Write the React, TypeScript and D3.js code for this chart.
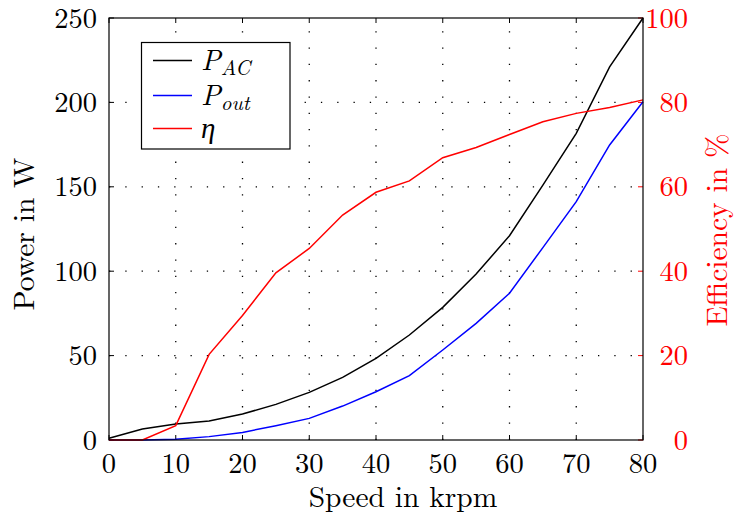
import React, { useEffect, useRef } from "react";
import * as d3 from "d3";

// Speed sweep in krpm
const speed = [0, 5, 10, 15, 20, 25, 30, 35, 40, 45, 50, 55, 60, 65, 70, 75, 80];
// Electrical input power in W
const pAC = [1, 6.5, 9.5, 11.3, 15.4, 21.1, 28.2, 37.1, 48.4, 62.2, 78.6, 98.3, 121, 151, 181.7, 221, 250];
// Mechanical output power in W
const pOut = [0, 0, 0.4, 2, 4.5, 8.5, 12.8, 20.1, 28.6, 38.1, 53.3, 69.1, 86.9, 114, 141.2, 174.8, 200.4];
// Efficiency in %
const eta = [0, 0, 3.4, 20.3, 29.5, 39.6, 45.4, 53.3, 58.7, 61.4, 66.9, 69.3, 72.4, 75.4, 77.4, 78.8, 80.6];

const xTicks = [0, 10, 20, 30, 40, 50, 60, 70, 80];
const yTicks = [0, 50, 100, 150, 200, 250];
const y2Ticks = [0, 20, 40, 60, 80, 100];

const W = 736;
const H = 517;
const M = { left: 109, right: 643, top: 18, bottom: 440 };
const FONT = "Latin Modern Roman";
const FS = "28.5px";
const FS_TITLE = "29.5px";

export default function App() {
  const ref = useRef<SVGSVGElement>(null);

  useEffect(() => {
    const svg = d3.select(ref.current);
    svg.selectAll("*").remove();

    const x = d3.scaleLinear().domain([0, 80]).range([M.left, M.right]);
    const y = d3.scaleLinear().domain([0, 250]).range([M.bottom, M.top]);
    const y2 = d3.scaleLinear().domain([0, 100]).range([M.bottom, M.top]);

    // dotted grid
    const grid = svg.append("g").attr("stroke", "#000").attr("stroke-width", 1.3)
      .attr("stroke-dasharray", "1.3,15");
    xTicks.slice(1, -1).forEach((t) => {
      grid.append("line").attr("x1", x(t)).attr("x2", x(t))
        .attr("y1", M.bottom).attr("y2", M.top);
    });
    yTicks.slice(1, -1).forEach((t) => {
      grid.append("line").attr("x1", M.left).attr("x2", M.right)
        .attr("y1", y(t)).attr("y2", y(t));
    });

    // inner tick marks
    const ticks = svg.append("g").attr("stroke-width", 1);
    xTicks.forEach((t) => {
      ticks.append("line").attr("stroke", "#000").attr("x1", x(t)).attr("x2", x(t))
        .attr("y1", M.bottom).attr("y2", M.bottom - 5);
      ticks.append("line").attr("stroke", "#000").attr("x1", x(t)).attr("x2", x(t))
        .attr("y1", M.top).attr("y2", M.top + 5);
    });
    yTicks.forEach((t) => {
      ticks.append("line").attr("stroke", "#000").attr("x1", M.left).attr("x2", M.left + 5)
        .attr("y1", y(t)).attr("y2", y(t));
    });
    y2Ticks.forEach((t) => {
      ticks.append("line").attr("stroke", "#f00").attr("x1", M.right).attr("x2", M.right - 5)
        .attr("y1", y2(t)).attr("y2", y2(t));
    });

    // series
    const lineL = d3.line<number>().x((_, i) => x(speed[i])).y((d) => y(d));
    const lineR = d3.line<number>().x((_, i) => x(speed[i])).y((d) => y2(d));
    svg.append("path").datum(pAC).attr("d", lineL).attr("fill", "none")
      .attr("stroke", "#000").attr("stroke-width", 1.5);
    svg.append("path").datum(pOut).attr("d", lineL).attr("fill", "none")
      .attr("stroke", "#00f").attr("stroke-width", 1.5);
    svg.append("path").datum(eta).attr("d", lineR).attr("fill", "none")
      .attr("stroke", "#f00").attr("stroke-width", 1.5);

    // frame
    svg.append("rect").attr("x", M.left).attr("y", M.top)
      .attr("width", M.right - M.left).attr("height", M.bottom - M.top)
      .attr("fill", "none").attr("stroke", "#000").attr("stroke-width", 1.2);

    // tick labels
    const lab = svg.append("g").style("font-family", FONT).style("font-size", FS);
    xTicks.forEach((t) => {
      lab.append("text").attr("x", x(t)).attr("y", 473).attr("text-anchor", "middle")
        .attr("fill", "#000").text(t);
    });
    yTicks.forEach((t) => {
      lab.append("text").attr("x", 97).attr("y", y(t) + 9.5).attr("text-anchor", "end")
        .attr("fill", "#000").text(t);
    });
    y2Ticks.forEach((t) => {
      lab.append("text").attr("x", 688).attr("y", y2(t) + 9.5).attr("text-anchor", "end")
        .attr("fill", "#f00").text(t);
    });

    // axis titles
    const ttl = svg.append("g").style("font-family", FONT).style("font-size", FS_TITLE);
    ttl.append("text").attr("x", 403).attr("y", 507).attr("text-anchor", "middle")
      .text("Speed in krpm");
    ttl.append("text").attr("transform", "translate(34,234) rotate(-90)")
      .attr("text-anchor", "middle").text("Power in W");
    ttl.append("text").attr("transform", "translate(727,230) rotate(-90)")
      .attr("text-anchor", "middle").attr("fill", "#f00").text("Efficiency in %");

    // legend
    const leg = svg.append("g");
    leg.append("rect").attr("x", 141.5).attr("y", 42.5).attr("width", 148.5).attr("height", 106.5)
      .attr("fill", "#fff").attr("stroke", "#000").attr("stroke-width", 1.2);
    const entries = [
      { c: "#000", main: "P", sub: "AC", yy: 60.5 },
      { c: "#00f", main: "P", sub: "out", yy: 95.5 },
      { c: "#f00", main: "η", sub: "", yy: 128.5 },
    ];
    entries.forEach((e) => {
      leg.append("line").attr("x1", 153).attr("x2", 192).attr("y1", e.yy).attr("y2", e.yy)
        .attr("stroke", e.c).attr("stroke-width", 1.5);
      const t = leg.append("text").attr("x", 201).attr("y", e.yy + 9)
        .style("font-family", FONT).style("font-style", "italic").style("font-size", "29px")
        .attr("fill", "#000");
      t.append("tspan").text(e.main);
      if (e.sub) {
        t.append("tspan").style("font-size", "21px").attr("dy", 5).text(e.sub);
      }
    });
  }, []);

  return (
    <svg ref={ref} width={W} height={H}
      style={{ position: "absolute", left: 0, top: 0, background: "#fff" }} />
  );
}
